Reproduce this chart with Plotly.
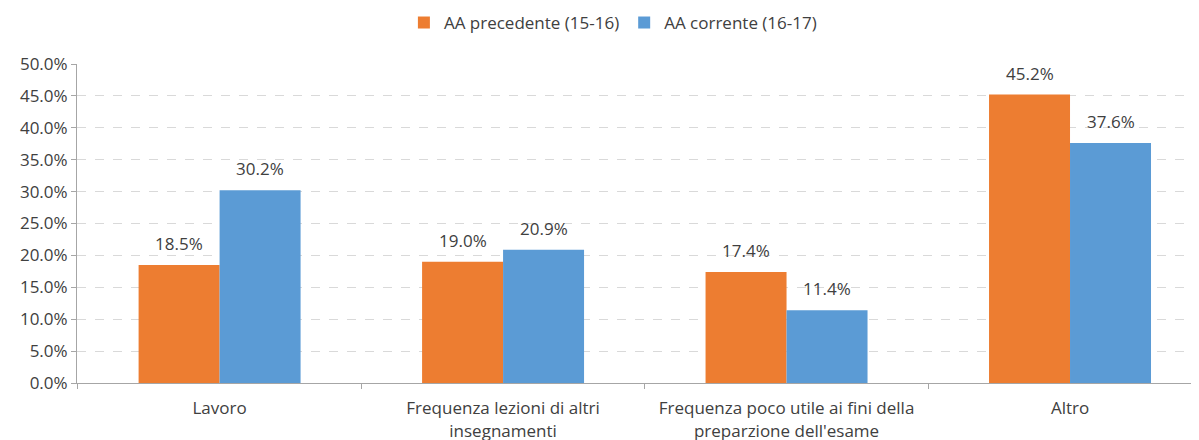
import plotly.graph_objects as go

categories = ["Lavoro", "Frequenza lezioni di altri<br>insegnamenti",
              "Frequenza poco utile ai fini della<br>preparzione dell'esame", "Altro"]
series_names = ["AA precedente (15-16)", "AA corrente (16-17)"]
prev_values = [0.185, 0.190, 0.174, 0.452]
curr_values = [0.302, 0.209, 0.114, 0.376]
y_tick_vals = [0.0, 0.05, 0.10, 0.15, 0.20, 0.25, 0.30, 0.35, 0.40, 0.45, 0.50]

colors = ["#ED7D31", "#5B9BD5"]
FONT = "Open Sans"
TXT = "#404040"

fig = go.Figure()
for name, vals, col in zip(series_names, [prev_values, curr_values], colors):
    fig.add_trace(go.Bar(name=name, x=categories, y=vals, marker=dict(color=col, line=dict(width=0))))

annotations = []
for vals, shift in [(prev_values, -40.5), (curr_values, 40.5)]:
    for c, v in zip(categories, vals):
        annotations.append(dict(x=c, y=v, xref="x", yref="y", text=f"{v*100:.1f}%",
                                showarrow=False, xshift=shift, yanchor="bottom", yshift=8,
                                font=dict(family=FONT, size=17, color=TXT)))

fig.update_layout(
    width=1199, height=440,
    margin=dict(l=69, r=8, t=56, b=65),
    paper_bgcolor="white", plot_bgcolor="white",
    barmode="group", bargap=0.4286, bargroupgap=0,
    font=dict(family=FONT, size=17, color=TXT),
    legend=dict(orientation="h", xref="container", yref="container", x=0.5045, xanchor="center",
                y=0.966, yanchor="middle", font=dict(family=FONT, size=17, color=TXT),
                itemwidth=30, traceorder="normal"),
    annotations=annotations,
    xaxis=dict(type="category", range=[-0.503, 3.455], showline=True, linecolor="#A6A6A6",
               linewidth=1, ticks="outside", tickson="boundaries", ticklen=5, tickcolor="#A6A6A6",
               showgrid=False, automargin=False, ticklabelstandoff=10,
               tickfont=dict(family=FONT, size=17, color=TXT)),
    yaxis=dict(range=[0, 0.5], tickvals=y_tick_vals, tickformat=".1%", showline=True,
               linecolor="#A6A6A6", linewidth=1, ticks="outside", ticklen=5, tickcolor="#A6A6A6",
               showgrid=True, gridcolor="#D9D9D9", griddash="dash", zeroline=False,
               automargin=False, tickfont=dict(family=FONT, size=17, color=TXT)),
)

fig.write_html("out.html")
